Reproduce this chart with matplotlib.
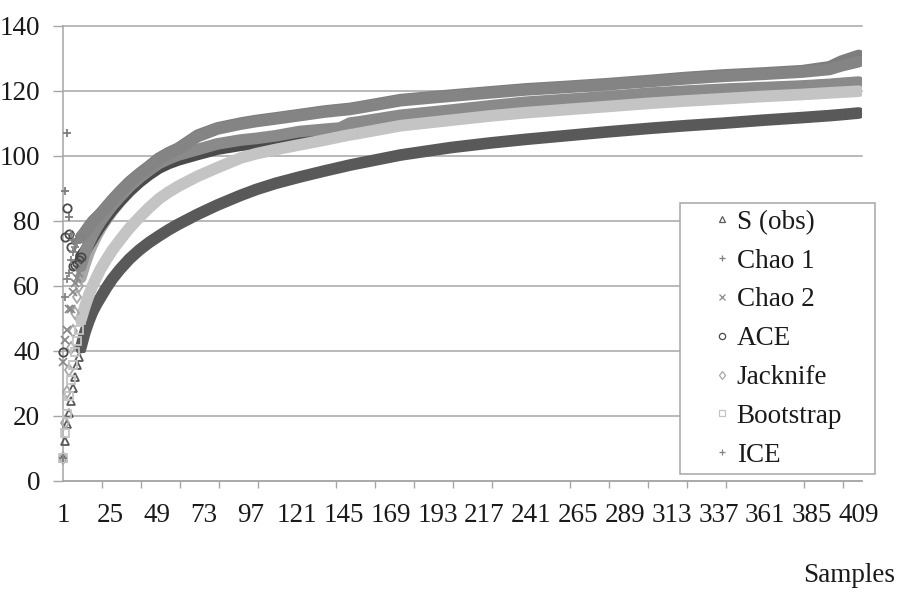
import matplotlib
matplotlib.use("Agg")
import matplotlib.pyplot as plt
from matplotlib.lines import Line2D

plt.rcParams['font.family'] = ['Liberation Serif', 'DejaVu Serif']

# ---- data ----
samples = [1, 2, 3, 4, 5, 6, 7, 8, 9, 10, 12, 14, 16, 18, 20, 23, 26, 30, 35, 40,
           45, 50, 55, 60, 70, 80, 92, 100, 110, 122, 135, 143, 148, 153, 174, 200,
           220, 238, 260, 280, 302, 320, 340, 360, 380, 394, 400, 409]

s_obs = [7, 12.3, 17.5, 21, 24.5, 28.5, 32, 35.5, 38.2, 41, 45.5, 49, 52, 54.3, 56.3,
         59.3, 62, 65, 68.3, 71, 73.3, 75.3, 77.2, 78.9, 82, 84.8, 87.8, 89.6, 91.5,
         93.4, 95.3, 96.4, 97.1, 97.7, 100.2, 102.5, 103.9, 105, 106.2, 107.3, 108.4,
         109.2, 110, 110.9, 111.7, 112.3, 112.6, 113.1]

chao1 = [7, 89, 107, 81, 76, 74, 73.5, 74, 74.5, 75, 76.5, 78.2, 79.8, 81, 82.2,
         84.3, 86.4, 89, 92, 94.5, 96.8, 99.2, 100.9, 102.3, 106.3, 108.5, 110, 110.8,
         111.6, 112.6, 113.7, 114.2, 114.5, 115, 117.2, 118.6, 119.6, 120.5, 121.3,
         122.1, 123.1, 124, 124.8, 125.4, 126.1, 127.3, 129, 130.8]

chao2 = [36.7, 43.3, 46.4, 53, 53, 58, 61, 62.5, 64, 66, 70, 73, 75.5, 77.7, 79.7,
         82.2, 84.6, 87.3, 90.5, 93.2, 95.5, 97.6, 99, 100.2, 101.9, 103.6, 104.8,
         105.3, 106.1, 107.4, 108.1, 108.5, 110, 110.4, 112.4, 114, 115.3, 116.4,
         117.3, 118.1, 119.2, 119.8, 120.4, 120.9, 121.4, 121.9, 122.2, 122.6]

ace = [39.7, 75, 84, 76, 72, 66, 66.5, 67, 68, 69, 70.5, 72.5, 74.5, 76.5, 78.3,
       80.8, 83.2, 86, 89.2, 91.9, 94.2, 96.2, 97.6, 98.7, 100.4, 102, 103.2, 103.7,
       104.5, 105.8, 106.7, 107.2, 109.6, 110, 112, 113.7, 115, 116.1, 117, 117.8,
       118.9, 119.6, 120.2, 120.7, 121.2, 121.7, 122, 122.4]

jackknife = [7, 17.8, 27.4, 34, 41, 46, 51.6, 56.6, 60, 62.5, 66.5, 70, 72.8, 75.3,
             77.5, 80.3, 82.8, 85.8, 89, 91.8, 94.2, 96.2, 97.8, 99, 100.8, 102.6,
             104, 104.6, 105.4, 106.6, 107.5, 108, 108.5, 108.9, 111, 112.7, 114,
             115, 115.9, 116.7, 117.7, 118.4, 119, 119.6, 120.1, 120.6, 120.8, 121.1]

bootstrap = [7, 14.7, 20.5, 26, 31, 35.5, 39.5, 43, 46.5, 49.5, 53.5, 57, 60, 62.5,
             65, 68, 70.8, 74, 77.8, 81, 84, 86.7, 88.8, 90.6, 93.7, 96.3, 99.3,
             100.6, 101.9, 103.3, 104.8, 105.8, 106.4, 106.9, 109.2, 110.9, 112.2,
             113.2, 114.2, 115.1, 116.1, 116.8, 117.5, 118.2, 118.8, 119.3, 119.5, 119.8]

ice = [7, 56.6, 62, 64, 68, 70.5, 72, 73, 74, 74.8, 76.2, 78, 79.5, 80.8, 82,
       84, 86.1, 88.7, 91.7, 94.2, 96.5, 98.9, 100.6, 102, 105.9, 108.2, 109.7,
       110.5, 111.3, 112.3, 113.4, 113.9, 114.2, 114.7, 116.9, 118.3, 119.3, 120.2,
       121, 121.8, 122.8, 123.6, 124.4, 125, 125.7, 126.5, 127.6, 128.9]

series_names = ['S (obs)', 'Chao 1', 'Chao 2', 'ACE', 'Jacknife', 'Bootstrap', 'ICE']
series_values = [s_obs, chao1, chao2, ace, jackknife, bootstrap, ice]

x_label_ticks = [1, 25, 49, 73, 97, 121, 145, 169, 193, 217, 241, 265, 289, 313,
                 337, 361, 385, 409]
x_minor_ticks = list(range(1, 402, 20))
y_ticks = [0, 20, 40, 60, 80, 100, 120, 140]

# ---- styles ----
colors = ['#595959', '#7d7d7d', '#8a8a8a', '#4a4a4a', '#a8a8a8', '#c4c4c4', '#848484']
markers = ['^', '+', 'x', 'o', 'd', 's', '+']
zorders = [2, 7, 5, 4, 3, 6, 8]

W, H = 903, 592
fig = plt.figure(figsize=(W / 100, H / 100), dpi=100)
ax_l, ax_r, ax_t, ax_b = 63.3, 861.7, 25.5, 481.0
ax = fig.add_axes([ax_l / W, 1 - ax_b / H, (ax_r - ax_l) / W, (ax_b - ax_t) / H])
ax.set_xlim(1, 410.5)
ax.set_ylim(0, 140)

n_early = 10
for name, vals, c, m, z in zip(series_names, series_values, colors, markers, zorders):
    # late part: dense markers fuse into a thick band
    ax.plot(samples[n_early - 1:], vals[n_early - 1:], color=c, lw=8.4,
            solid_capstyle='round', solid_joinstyle='round', zorder=z)
    # early part: separate markers
    ax.plot(samples[:n_early], vals[:n_early], linestyle='none', marker=m,
            markersize=6, markerfacecolor='none', markeredgecolor=c,
            markeredgewidth=1.3, zorder=z + 10, clip_on=False)

grid_c = '#a6a6a6'
ax.set_yticks(y_ticks)
ax.set_yticklabels([str(v) for v in y_ticks])
ax.set_xticks(x_label_ticks)
ax.set_xticklabels([str(v) for v in x_label_ticks])
ax.set_xticks(x_minor_ticks, minor=True)
ax.tick_params(axis='y', which='major', direction='out', length=7.2, width=1,
               color=grid_c, pad=9.5, labelsize=19.5, labelcolor='#1a1a1a')
ax.tick_params(axis='x', which='major', length=0, pad=15.5, labelsize=19.5,
               labelcolor='#1a1a1a')
ax.tick_params(axis='x', which='minor', direction='out', length=5, width=1,
               color=grid_c)
ax.yaxis.grid(True, color=grid_c, linewidth=1.1)
ax.set_axisbelow(True)
for gl in ax.yaxis.get_gridlines():
    gl.set_clip_on(False)
for sp in ['top', 'right']:
    ax.spines[sp].set_visible(False)
for sp in ['left', 'bottom']:
    ax.spines[sp].set_color(grid_c)
    ax.spines[sp].set_linewidth(1.1)

handles = [Line2D([], [], linestyle='none', marker=m, markersize=4.5,
                  markerfacecolor='none', markeredgecolor=c, markeredgewidth=0.9)
           for m, c in zip(markers, colors)]
leg = fig.legend(handles, series_names, loc='upper left',
                 bbox_to_anchor=(680 / W, 1 - 476 / H, 195 / W, 273 / H),
                 mode='expand', borderaxespad=0, fontsize=19.5, frameon=True,
                 fancybox=False, framealpha=1, borderpad=0.25, labelspacing=0.51,
                 handlelength=2.575, handletextpad=-0.73, numpoints=1)
leg.get_frame().set_edgecolor(grid_c)
leg.get_frame().set_linewidth(1.1)
for t in leg.get_texts():
    t.set_color('#1a1a1a')

fig.text(895 / W, 1 - 575 / H, 'Samples', ha='right', va='center',
         fontsize=19.5, color='#1a1a1a')

fig.savefig('out.png', dpi=100)
